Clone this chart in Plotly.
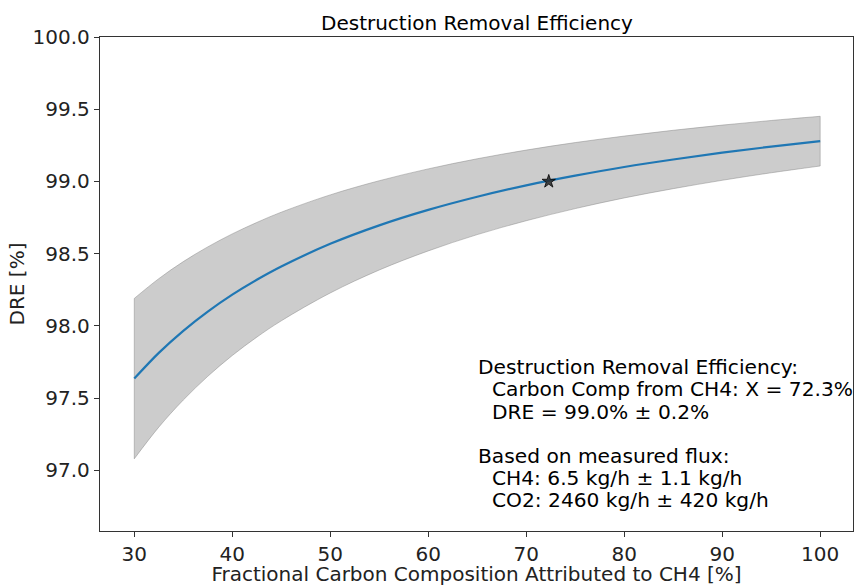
import plotly.graph_objects as go

# Fraction of carbon attributed to CH4 [%]
carbon_frac = [30, 32.5, 35, 37.5, 40, 42.5, 45, 50, 55, 60, 65, 70, 75, 80, 85, 90, 95, 100]
# Destruction removal efficiency [%] and its uncertainty band
dre = [97.635, 97.813, 97.966, 98.099, 98.216, 98.319, 98.411, 98.568, 98.696,
       98.803, 98.894, 98.973, 99.040, 99.100, 99.152, 99.199, 99.241, 99.279]
dre_upper = [98.190, 98.327, 98.445, 98.547, 98.637, 98.716, 98.787, 98.907, 99.005,
             99.087, 99.157, 99.217, 99.269, 99.314, 99.354, 99.390, 99.422, 99.451]
dre_lower = [97.080, 97.299, 97.487, 97.651, 97.795, 97.922, 98.035, 98.228, 98.387,
             98.519, 98.632, 98.728, 98.812, 98.886, 98.950, 99.008, 99.060, 99.107]

# Operating point
x_op = [72.3]
dre_op = [99.0]

x_ticks = [30, 40, 50, 60, 70, 80, 90, 100]
y_ticks = [97.0, 97.5, 98.0, 98.5, 99.0, 99.5, 100.0]

info_lines = [
    ("Destruction Removal Efficiency:", 0),
    ("Carbon Comp from CH4: X = 72.3%", 1),
    ("DRE = 99.0% ± 0.2%", 1),
    ("Based on measured flux:", 0),
    ("CH4: 6.5 kg/h ± 1.1 kg/h", 1),
    ("CO2: 2460 kg/h ± 420 kg/h", 1),
]
info_baselines = [378, 401, 424, 468, 490.5, 513]

FONT = "DejaVu Sans"
W, H = 855, 586
L, R, T, B = 100, 854, 37, 536

def px_to_paper(px, py):
    return (px - L) / (R - L), (B - py) / (B - T)

fig = go.Figure()

band_line = dict(color="rgba(128,128,128,0.45)", width=1, shape="spline", smoothing=1.0)

# uncertainty band: lower edge, then upper edge filled down to it
fig.add_trace(go.Scatter(
    x=carbon_frac, y=dre_lower, mode="lines", line=band_line,
    hoverinfo="skip", showlegend=False,
))
fig.add_trace(go.Scatter(
    x=carbon_frac, y=dre_upper, mode="lines", line=band_line,
    fill="tonexty", fillcolor="rgba(128,128,128,0.4)",
    hoverinfo="skip", showlegend=False,
))
# vertical ends of the band
for xe, lo, hi in ((carbon_frac[0], dre_lower[0], dre_upper[0]),
                   (carbon_frac[-1], dre_lower[-1], dre_upper[-1])):
    fig.add_trace(go.Scatter(
        x=[xe, xe], y=[lo, hi], mode="lines",
        line=dict(color="rgba(128,128,128,0.45)", width=1),
        hoverinfo="skip", showlegend=False,
    ))

fig.add_trace(go.Scatter(
    x=carbon_frac, y=dre,
    mode="lines",
    line=dict(color="#1f77b4", width=2.2, shape="spline", smoothing=1.0),
    showlegend=False,
))

fig.add_trace(go.Scatter(
    x=x_op, y=dre_op,
    mode="markers",
    marker=dict(symbol="star", size=10, color="rgba(40,40,40,0.85)",
                line=dict(color="black", width=0.8)),
    showlegend=False,
))

annotations = []
for (text, indent), base in zip(info_lines, info_baselines):
    xp, yp = px_to_paper(478 + 13.5 * indent, base + 5)
    annotations.append(dict(
        text=text, xref="paper", yref="paper", x=xp, y=yp,
        xanchor="left", yanchor="bottom", showarrow=False,
        font=dict(family=FONT, size=20.2, color="black"), borderpad=0,
    ))

# title
tx, ty = px_to_paper(477, 36)
annotations.append(dict(
    text="Destruction Removal Efficiency", xref="paper", yref="paper",
    x=tx, y=ty, xanchor="center", yanchor="bottom", showarrow=False,
    font=dict(family=FONT, size=20, color="black"), borderpad=0,
))

fig.update_layout(
    width=W, height=H,
    margin=dict(l=L, r=W - R, t=T, b=H - B),
    paper_bgcolor="white", plot_bgcolor="white",
    font=dict(family=FONT, size=20, color="black"),
    annotations=annotations,
)

axis_common = dict(
    showgrid=False, zeroline=False, showline=True, mirror=True,
    linecolor="#333333", linewidth=1.3,
    ticks="outside", ticklen=5, tickwidth=1.2, tickcolor="#333333",
    tickfont=dict(family=FONT, size=20, color="#222222"),
)

fig.update_xaxes(
    range=[26.5, 103.35], tickvals=x_ticks,
    title=dict(text="Fractional Carbon Composition Attributed to CH4 [%]",
               font=dict(family=FONT, size=20, color="#222222"), standoff=5),
    **axis_common,
)
fig.update_yaxes(
    range=[96.58, 100.0], tickvals=y_ticks, tickformat=".1f",
    title=dict(text="DRE [%]", font=dict(family=FONT, size=20, color="#222222"), standoff=2),
    **axis_common,
)

fig.write_html("out.html")
